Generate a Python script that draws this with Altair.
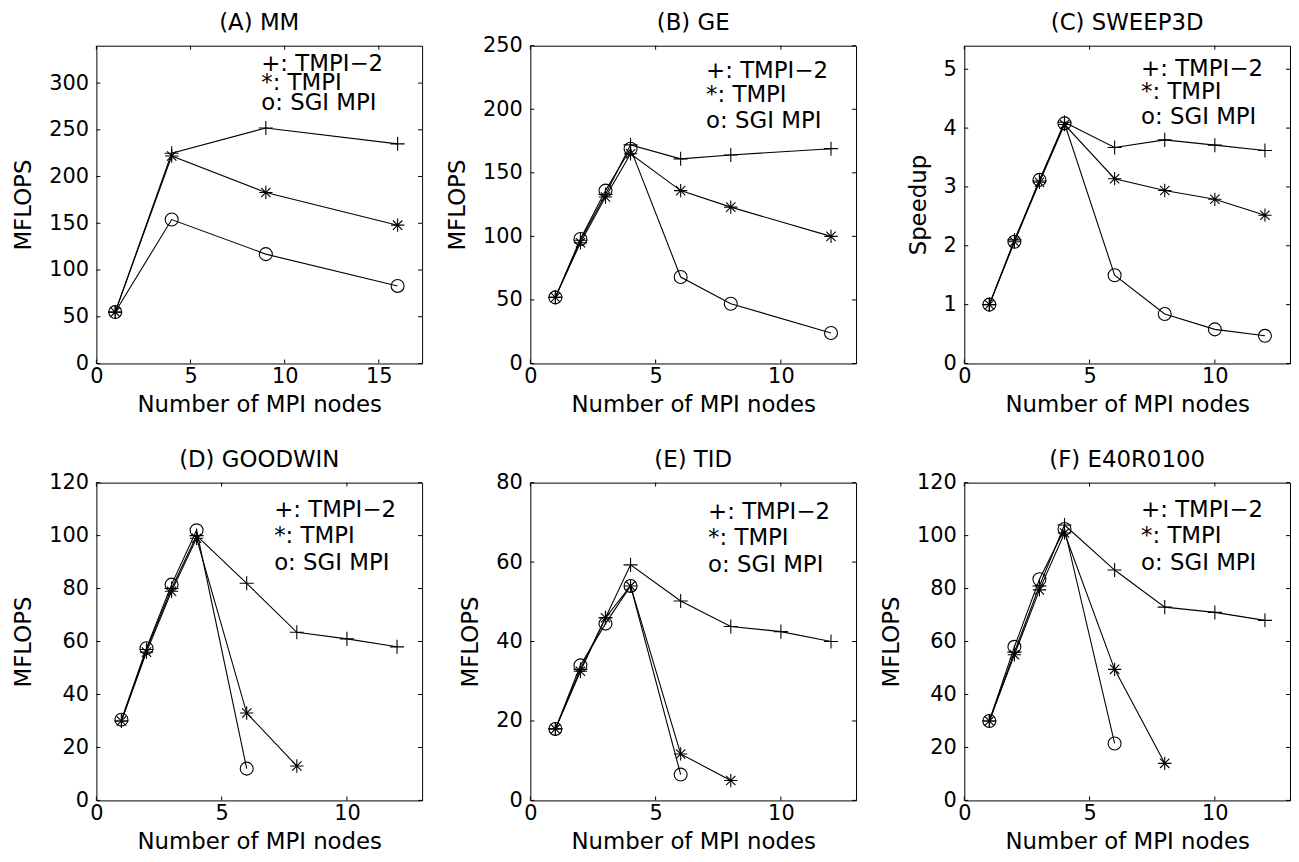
import altair as alt
import pandas as pd

FONT = "DejaVu Sans"
SERIES = ["TMPI-2", "TMPI", "SGI MPI"]
LEGEND_LABELS = ["+: TMPI\u22122", "*: TMPI", "o: SGI MPI"]
X_TITLE = "Number of MPI nodes"

# (A) MM
mm_x = [1, 4, 9, 16]
mm_tmpi2 = [55, 225, 252, 235]
mm_tmpi = [55, 222, 183, 148]
mm_sgi = [55, 154, 117, 83]

# (B) GE
ge_x = [1, 2, 3, 4, 6, 8, 12]
ge_tmpi2 = [52, 97, 133, 172, 161, 164, 169]
ge_tmpi = [52, 95, 131, 165, 136, 123, 100]
ge_sgi = [52, 98, 136, 169, 68, 47, 24]

# (C) SWEEP3D
sw_x = [1, 2, 3, 4, 6, 8, 10, 12]
sw_tmpi2 = [1.0, 2.1, 3.1, 4.1, 3.67, 3.80, 3.71, 3.62]
sw_tmpi = [1.0, 2.07, 3.08, 4.06, 3.14, 2.94, 2.79, 2.52]
sw_sgi = [1.0, 2.07, 3.12, 4.08, 1.50, 0.84, 0.58, 0.47]

# shared node counts for (D), (E), (F)
x_tmpi2 = [1, 2, 3, 4, 6, 8, 10, 12]
x_tmpi = [1, 2, 3, 4, 6, 8]
x_sgi = [1, 2, 3, 4, 6]

# (D) GOODWIN
gw_tmpi2 = [30, 57, 80, 100, 82, 63.5, 61, 58]
gw_tmpi = [30, 56, 79, 99, 33, 13]
gw_sgi = [30.5, 57.5, 81.5, 102, 12]

# (E) TID
tid_tmpi2 = [18, 33, 46, 59.3, 50.2, 43.8, 42.5, 40]
tid_tmpi = [18, 32.5, 46, 54, 11.7, 5]
tid_sgi = [18, 34, 44.5, 54, 6.5]

# (F) E40R0100
e40_tmpi2 = [30, 56, 81, 104, 87, 73, 71, 68]
e40_tmpi = [30, 55, 79.5, 101, 49.5, 14]
e40_sgi = [30, 58, 83.5, 102.5, 21.5]

# tick values
ticks_x_mm = [0, 5, 10, 15]
ticks_x = [0, 5, 10]
ticks_y_mm = [0, 50, 100, 150, 200, 250, 300]
ticks_y_ge = [0, 50, 100, 150, 200, 250]
ticks_y_sw = [0, 1, 2, 3, 4, 5]
ticks_y_120 = [0, 20, 40, 60, 80, 100, 120]
ticks_y_80 = [0, 20, 40, 60, 80]

W, H = 328, 320
TICK = 4
PLUS = "M-1,0L1,0M0,-1L0,1"
STAR = "M-1,0L1,0M0,-1L0,1M-0.7,-0.7L0.7,0.7M-0.7,0.7L0.7,-0.7"
SHAPES = {"TMPI-2": (PLUS, 200), "TMPI": (STAR, 180), "SGI MPI": ("circle", 170)}


def panel(title, ylab, series_data, xdom, ydom, xt, yt, leg_x, leg_ys):
    frames = [pd.DataFrame({"x": xs, "y": ys, "series": name}) for name, xs, ys in series_data]
    df = pd.concat(frames, ignore_index=True)
    X = alt.X("x:Q", scale=alt.Scale(domain=xdom, nice=False, zero=False),
              axis=alt.Axis(values=xt, title=X_TITLE, format="d"))
    Y = alt.Y("y:Q", scale=alt.Scale(domain=ydom, nice=False, zero=False),
              axis=alt.Axis(values=yt, title=ylab))
    layers = []
    layers.append(alt.Chart(df).mark_line(color="black", strokeWidth=1.1).encode(
        x=X, y=Y, detail="series:N", order="x:Q"))
    for name, _, _ in series_data:
        shape, size = SHAPES[name]
        layers.append(alt.Chart(df[df["series"] == name]).mark_point(
            shape=shape, size=size, filled=False, color="black", strokeWidth=1.1, opacity=1
        ).encode(x=X, y=Y))
    xt_df = pd.DataFrame({"x": xt})
    yt_df = pd.DataFrame({"y": yt})
    layers.append(alt.Chart(xt_df).mark_rule(color="black", strokeWidth=1).encode(
        x=X, y=alt.value(H), y2=alt.value(H - TICK)))
    layers.append(alt.Chart(xt_df).mark_rule(color="black", strokeWidth=1).encode(
        x=X, y=alt.value(0), y2=alt.value(TICK)))
    layers.append(alt.Chart(yt_df).mark_rule(color="black", strokeWidth=1).encode(
        y=Y, x=alt.value(0), x2=alt.value(TICK)))
    layers.append(alt.Chart(yt_df).mark_rule(color="black", strokeWidth=1).encode(
        y=Y, x=alt.value(W - TICK), x2=alt.value(W)))
    for lab, ly in zip(LEGEND_LABELS, leg_ys):
        layers.append(alt.Chart(pd.DataFrame({"label": [lab]})).mark_text(
            align="left", baseline="middle", font=FONT, fontSize=23, color="black"
        ).encode(text="label:N", x=alt.value(leg_x), y=alt.value(ly)))
    # panel title, drawn as text above the plot area
    layers.append(alt.Chart(pd.DataFrame({"label": [title]})).mark_text(
        align="center", baseline="middle", font=FONT, fontSize=23, color="black"
    ).encode(text="label:N", x=alt.value(W / 2), y=alt.value(-23)))
    return alt.layer(*layers).properties(width=W, height=H)


panels = [
    panel("(A) MM", "MFLOPS",
          [("TMPI-2", mm_x, mm_tmpi2), ("TMPI", mm_x, mm_tmpi), ("SGI MPI", mm_x, mm_sgi)],
          [0, 17.3], [0, 340], ticks_x_mm, ticks_y_mm, 166, [18, 38, 58]),
    panel("(B) GE", "MFLOPS",
          [("TMPI-2", ge_x, ge_tmpi2), ("TMPI", ge_x, ge_tmpi), ("SGI MPI", ge_x, ge_sgi)],
          [0, 13], [0, 250], ticks_x, ticks_y_ge, 177, [26, 50, 76]),
    panel("(C) SWEEP3D", "Speedup",
          [("TMPI-2", sw_x, sw_tmpi2), ("TMPI", sw_x, sw_tmpi), ("SGI MPI", sw_x, sw_sgi)],
          [0, 13], [0, 5.4], ticks_x, ticks_y_sw, 178, [23, 47, 72]),
    panel("(D) GOODWIN", "MFLOPS",
          [("TMPI-2", x_tmpi2, gw_tmpi2), ("TMPI", x_tmpi, gw_tmpi), ("SGI MPI", x_sgi, gw_sgi)],
          [0, 13], [0, 120], ticks_x, ticks_y_120, 179, [28, 54, 81]),
    panel("(E) TID", "MFLOPS",
          [("TMPI-2", x_tmpi2, tid_tmpi2), ("TMPI", x_tmpi, tid_tmpi), ("SGI MPI", x_sgi, tid_sgi)],
          [0, 13], [0, 80], ticks_x, ticks_y_80, 179, [30, 56, 83]),
    panel("(F) E40R0100", "MFLOPS",
          [("TMPI-2", x_tmpi2, e40_tmpi2), ("TMPI", x_tmpi, e40_tmpi), ("SGI MPI", x_sgi, e40_sgi)],
          [0, 13], [0, 120], ticks_x, ticks_y_120, 178, [28, 54, 81]),
]

chart = alt.concat(
    *panels, columns=3, spacing={"row": 120, "column": 109}, bounds="flush"
).configure_view(
    stroke="black", strokeWidth=1
).configure_axis(
    grid=False, domain=False, ticks=False, labelFont=FONT, labelFontSize=21,
    labelColor="black", titleFont=FONT, titleFontSize=23, titleFontWeight="normal",
    titleColor="black", labelFlush=False, labelOverlap=False
).configure_axisX(
    labelPadding=2, titlePadding=7
).configure_axisY(
    labelPadding=8, titlePadding=13
).properties(
    padding={"left": 4, "top": 0, "right": 0, "bottom": 0},
    background="white"
)

chart.save("out.html", embed_options={"renderer": "svg", "actions": False})
